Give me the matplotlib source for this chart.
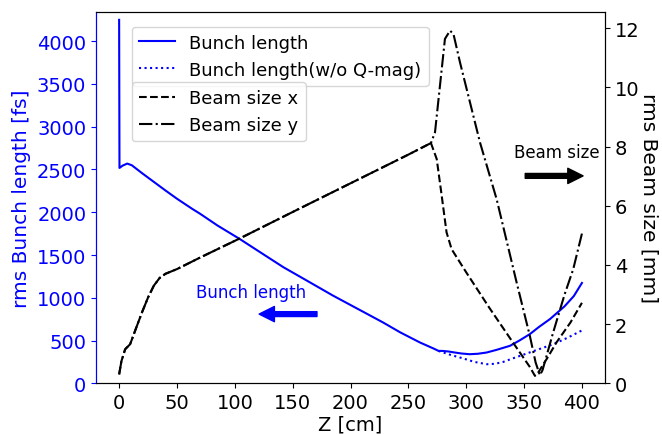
import matplotlib

matplotlib.use("Agg")
import matplotlib.pyplot as plt

# bunch length [fs] vs z [cm]
z_bl = [0, 0.3, 3, 7, 11, 20, 30, 40, 50, 63, 70, 85, 104.5, 120, 142, 160,
        185, 205, 228, 243, 260, 272, 276, 280, 284.5, 290, 296, 303, 310,
        317.7, 326, 337.8, 346, 355, 363, 372.4, 385, 393, 400]
bl = [4250, 2518, 2545, 2569, 2549, 2455, 2355, 2255, 2158, 2041, 1982, 1845,
      1685, 1549, 1357, 1218, 1024, 879, 712, 595, 477, 405, 379, 378, 372,
      360, 348, 340, 345, 360, 390, 438, 500, 575, 660, 751, 900, 1020, 1173]

# bunch length without Q-magnets
z_bl2 = [276, 277.3, 287, 297.5, 307, 317.7, 325, 332, 339, 346.4, 360, 375.2,
         388, 400]
bl2 = [379, 372, 330, 290, 250, 223, 228, 250, 285, 320, 385, 457, 535, 618]

# beam size x [mm]
z_bx = [0, 2, 5.2, 9.5, 15, 20, 25, 30, 35, 40, 50, 70, 104.5, 150, 200, 250,
        269.5, 274.5, 278.8, 283, 287.4, 300, 320, 340, 355, 359.4, 362, 370,
        378, 390, 400]
bx = [0.3, 0.75, 1.15, 1.32, 1.9, 2.42, 2.9, 3.3, 3.56, 3.7, 3.86, 4.25, 4.9,
      5.79, 6.76, 7.73, 8.12, 7.58, 6.34, 5.1, 4.53, 3.75, 2.55, 1.4, 0.55,
      0.25, 0.35, 0.85, 1.38, 2.05, 2.72]

# beam size y [mm]
z_by = [0, 2, 5.2, 9.5, 15, 20, 25, 30, 35, 40, 50, 70, 104.5, 150, 200, 250,
        269.5, 273, 277.3, 281.6, 286, 289, 294.6, 311.9, 326.3, 343.6, 355,
        360, 363.7, 366, 375, 385, 392.5, 400]
by = [0.3, 0.75, 1.15, 1.32, 1.9, 2.42, 2.9, 3.3, 3.56, 3.7, 3.86, 4.25, 4.9,
      5.79, 6.76, 7.73, 8.12, 8.48, 10.06, 11.64, 11.92, 11.8, 10.85, 8.14,
      6.22, 3.4, 1.6, 0.7, 0.27, 0.45, 1.7, 3.0, 3.86, 5.06]

BLUE = "blue"

fig = plt.figure(figsize=(6.62, 4.35), dpi=100)
ax1 = fig.add_axes([0.145, 0.1166, 0.769, 0.8542])
ax2 = ax1.twinx()

l1, = ax1.plot(z_bl, bl, color=BLUE, lw=1.5, label="Bunch length")
l2, = ax1.plot(z_bl2, bl2, color=BLUE, lw=1.5, ls=":",
               label="Bunch length(w/o Q-mag)")
l3, = ax2.plot(z_bx, bx, color="black", lw=1.5, ls="--", label="Beam size x")
l4, = ax2.plot(z_by, by, color="black", lw=1.5, ls="-.", label="Beam size y")

ax1.set_xlim(-20, 420)
ax1.set_ylim(0, 4345)
ax2.set_ylim(0, 12.56)
ax1.set_yticks(range(0, 4001, 500))
ax2.set_yticks(range(0, 13, 2))
ax1.set_xticks(range(0, 401, 50))

ax1.set_xlabel("Z [cm]", fontsize=14, labelpad=2)
ax1.set_ylabel("rms Bunch length [fs]", fontsize=14.5, color=BLUE, labelpad=4)
ax2.set_ylabel("rms Beam size [mm]", fontsize=14.5, rotation=270, labelpad=14)
ax1.tick_params(axis="y", colors=BLUE, labelsize=14)
ax1.tick_params(axis="x", labelsize=14)
ax2.tick_params(axis="y", labelsize=14)
ax1.spines["left"].set_color(BLUE)
ax2.spines["left"].set_color(BLUE)

leg1 = ax1.legend(handles=[l1, l2], loc="upper left", fontsize=13,
                  bbox_to_anchor=(0.07, 0.96), borderaxespad=0)
leg2 = ax2.legend(handles=[l3, l4], loc="upper left", fontsize=13,
                  bbox_to_anchor=(0.07, 0.811), borderaxespad=0)

ax1.text(114, 1073, "Bunch length", color=BLUE, fontsize=12,
         ha="center", va="center")
ax1.annotate("", xy=(121, 809), xytext=(171, 809),
             arrowprops=dict(facecolor=BLUE, edgecolor=BLUE, width=3.5,
                             headwidth=11, headlength=11, shrink=0))
ax2.text(378, 7.81, "Beam size", color="black", fontsize=12,
         ha="center", va="center")
ax2.annotate("", xy=(401, 7.01), xytext=(351, 7.01),
             arrowprops=dict(facecolor="black", edgecolor="black", width=3.5,
                             headwidth=11, headlength=11, shrink=0))

fig.savefig("out.png", dpi=100)
